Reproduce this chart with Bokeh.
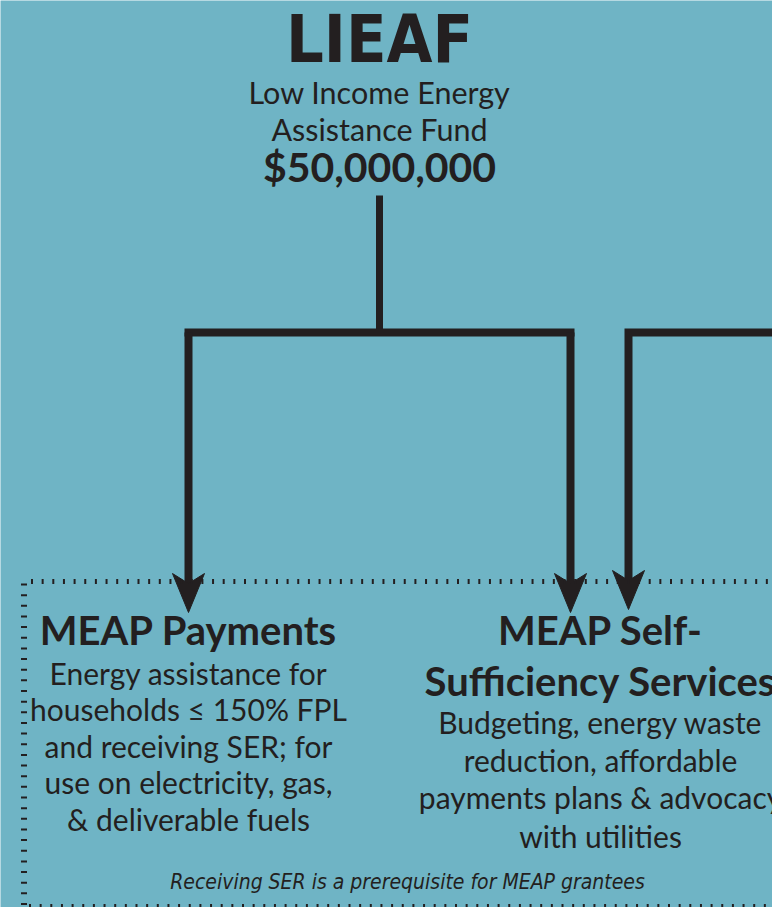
from bokeh.plotting import figure
from bokeh.models import Range1d
from bokeh.core.properties import value
from bokeh.embed import file_html
from bokeh.resources import INLINE
import numpy as np

BG = "#6fb4c5"
INK = "#231f20"

# ---- content ----
title = "LIEAF"
subtitle_lines = ["Low Income Energy", "Assistance Fund"]
amount = "$50,000,000"
left_head = ["MEAP Payments"]
left_body = ["Energy assistance for", "households \u2264 150% FPL", "and receiving SER; for",
             "use on electricity, gas,", "& deliverable fuels"]
right_head = ["MEAP Self-", "Sufficiency Services"]
right_body = ["Budgeting, energy waste", "reduction, affordable",
              "payments plans & advocacy", "with utilities"]
footnote = "Receiving SER  is a prerequisite for MEAP  grantees"

# ---- layout (pixel space of the diagram) ----
top_cx = 379
left_cx = 188
right_cx = 600
note_cx = 413
title_base = 64
sub_bases = [103, 140]
amount_base = 182
left_head_bases = [645]
left_body_bases = [684, 720, 757, 793, 830]
right_head_bases = [645, 696]
right_body_bases = [733, 771, 808, 847]
note_base = 889

COND = "'DejaVu Sans Condensed', 'DejaVu Sans', sans-serif"

W, H = 772, 907
p = figure(width=W, height=H, output_backend="svg", toolbar_location=None,
           x_range=Range1d(0, W), y_range=Range1d(H, 0),
           min_border=0, x_axis_location=None, y_axis_location=None,
           background_fill_color=BG, border_fill_color=BG, outline_line_color=None)
p.grid.visible = False

# connectors
p.line([top_cx, top_cx], [195, 332], line_color=INK, line_width=7)
p.line([left_cx, 570], [332, 332], line_color=INK, line_width=8, line_cap="square")
p.line([left_cx, left_cx], [332, 590], line_color=INK, line_width=8)
p.line([570, 570], [332, 590], line_color=INK, line_width=8)
p.line([790, 628, 628], [332, 332, 585], line_color=INK, line_width=8, line_join="miter")

# arrow heads
arrows_x = [188, 570, 628]
arrows_back = [573, 573, 570]
head_len = 39
half_w = 16
notch = 10
xs, ys = [], []
for ax, ab in zip(arrows_x, arrows_back):
    xs.append([ax - half_w, ax, ax + half_w, ax])
    ys.append([ab, ab + notch, ab, ab + head_len])
p.patches(xs, ys, fill_color=INK, line_color=INK, line_width=1)

# dotted frame
step = 10.65
tx = np.arange(31.5, 780, step)
p.rect(tx, [581] * len(tx), width=2, height=5, fill_color=INK, line_color=None)
bx = np.arange(29.5, 780, step)
p.rect(bx, [906] * len(bx), width=2, height=5, fill_color=INK, line_color=None)
ly = np.arange(584, 910, step)
p.rect([23.5] * len(ly), ly, width=6, height=2, fill_color=INK, line_color=None)

def txt(x, y, s, size, font="Lato", style="normal"):
    y_adj = y - 0.38 * size
    p.text(x=[x], y=[y_adj], text=[s], text_font=value(font), text_font_size=f"{size}px",
           text_font_style=style, text_color=INK, text_align="center",
           text_baseline="alphabetic")

txt(top_cx, title_base, title, 66, COND, "bold")
for s, b in zip(subtitle_lines, sub_bases):
    txt(top_cx, b, s, 30.5)
txt(top_cx, amount_base, amount, 41, "Lato", "bold")
for s, b in zip(left_head, left_head_bases):
    txt(left_cx, b, s, 40, "Lato", "bold")
for s, b in zip(left_body, left_body_bases):
    txt(left_cx, b, s, 30)
for s, b in zip(right_head, right_head_bases):
    txt(right_cx, b, s, 40, "Lato", "bold")
for s, b in zip(right_body, right_body_bases):
    txt(right_cx, b, s, 30)
txt(note_cx, note_base, footnote, 21, COND, "italic")

open("out.html", "w").write(file_html(p, INLINE))
